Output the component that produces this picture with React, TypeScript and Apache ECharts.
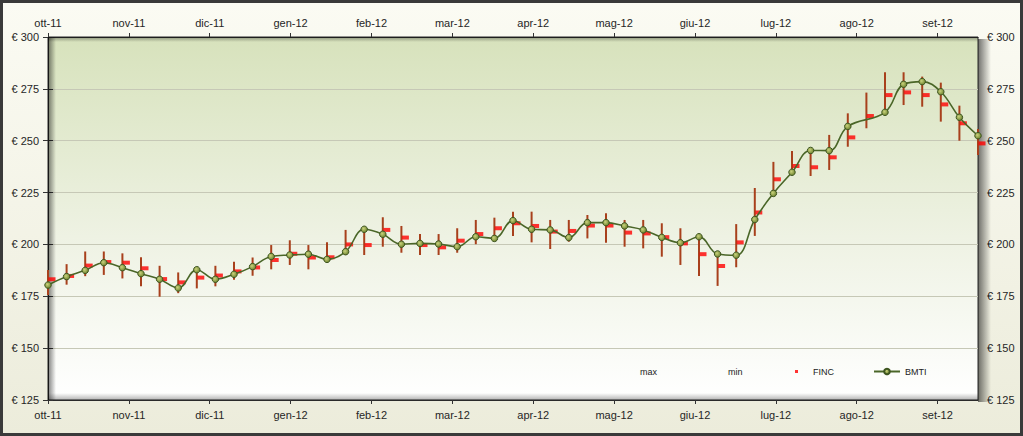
import React, { useEffect, useRef } from "react";
import * as echarts from "echarts";

const months = ["ott-11", "nov-11", "dic-11", "gen-12", "feb-12", "mar-12", "apr-12", "mag-12", "giu-12", "lug-12", "ago-12", "set-12"];
const monthTicks = months.map((_, i) => i);
const yTicks = [125, 150, 175, 200, 225, 250, 275, 300];

const bmti: (number | null)[] = [
  180.4, 184.5, 187.5, 191.2, 188.8, 185.9, 183.2, 179.0, 187.8, 183.2,
  185.6, 189.3, 194.2, 194.9, 195.3, 192.8, 196.5, 207.3, 204.9, 200.1,
  200.5, 200.2, 198.9, 203.7, 202.9, 211.5, 207.3, 207.0, 203.3, 210.5,
  210.5, 208.9, 207.0, 203.4, 200.8, 203.7, 195.4, 194.8, 212.0, 224.6,
  234.8, 245.3, 245.2, 256.9, null, 263.7, 277.2, 278.5, 273.6, 261.3,
  252.4,
];
const maxVals = [
  187.7, 190.5, 196.6, 196.6, 195.7, 193.8, 189.7, 186.5, 188.0, 189.7,
  191.7, 193.7, 199.7, 202.0, 199.7, 201.0, 207.0, 207.3, 213.1, 208.9,
  205.0, 205.0, 207.8, 211.8, 212.9, 215.8, 215.8, 211.8, 211.8, 214.2,
  215.0, 211.8, 211.8, 210.2, 207.8, 204.0, 195.6, 209.8, 227.2, 239.8,
  245.0, 245.4, 252.8, 263.2, 273.2, 283.0, 283.0, 280.9, 278.0, 266.9,
  255.6,
];
const minVals = [
  175.6, 180.6, 184.7, 185.3, 183.6, 179.8, 174.8, 176.5, 178.8, 179.8,
  183.0, 184.9, 188.0, 190.1, 188.0, 191.7, 194.9, 194.9, 198.9, 196.0,
  194.9, 194.9, 196.0, 200.1, 202.1, 204.1, 201.0, 197.8, 201.3, 202.9,
  200.8, 198.9, 198.1, 194.1, 190.1, 184.8, 180.0, 189.0, 204.1, 225.5,
  234.0, 233.0, 235.9, 247.1, 256.0, 263.5, 267.2, 266.4, 259.2, 250.0,
  243.1,
];
const finc = [
  183.2, 184.8, 189.8, 191.5, 191.2, 188.5, 183.3, 181.7, 184.0, 185.0,
  187.0, 188.9, 192.5, 195.5, 193.7, 193.8, 200.0, 199.7, 207.0, 203.3,
  199.7, 198.6, 201.8, 205.0, 207.8, 210.2, 208.9, 206.2, 206.5, 209.1,
  209.1, 205.7, 205.3, 203.5, 200.5, 195.3, 189.6, 201.0, 215.4, 231.4,
  237.8, 237.2, 242.0, 251.6, 261.9, 272.0, 273.3, 272.0, 267.5, 258.4,
  248.7,
];
const weeks = bmti.map((_, i) => `s${i + 1}`);

export default function App() {
  const ref = useRef<HTMLDivElement>(null);
  useEffect(() => {
    if (!ref.current) return;
    const chart = echarts.init(ref.current, undefined, { renderer: "svg" });
    const G = echarts.graphic;
    const labelColor = "#262626";
    const font = "Liberation Sans, Arial, sans-serif";
    const monthAxis = (position: string) => ({
      type: "value",
      gridIndex: 0,
      position,
      min: 0,
      max: 11.5,
      axisLine: { show: true, lineStyle: { color: "#2a2a2a", width: 1 } },
      axisTick: { show: true, length: 4, customValues: monthTicks, lineStyle: { color: "#333" } },
      axisLabel: {
        customValues: monthTicks,
        formatter: (v: number) => months[Math.round(v)] ?? "",
        color: labelColor,
        fontSize: 11,
        fontFamily: font,
        margin: 9,
      },
      splitLine: { show: false },
    });
    const yAxis = (position: string, split: boolean) => ({
      type: "value",
      position,
      min: 125,
      max: 300,
      interval: 25,
      axisLine: { show: true, lineStyle: { color: "#2a2a2a", width: 1 } },
      axisTick: { show: true, length: 5, lineStyle: { color: "#333" } },
      axisLabel: {
        formatter: (v: number) => `€ ${v}`,
        color: labelColor,
        fontSize: 11,
        fontFamily: font,
        margin: 9,
      },
      splitLine: { show: split, lineStyle: { color: "#c6c8b6", width: 1 } },
    });
    const legendBase = {
      top: 367,
      textStyle: { fontSize: 9, color: "#222", fontFamily: font },
      selectedMode: false,
      padding: 0,
    };
    chart.setOption({
      animation: false,
      backgroundColor: "transparent",
      graphic: [
        {
          type: "rect",
          z: -10,
          shape: { x: 1.5, y: 1.5, width: 1020, height: 433 },
          style: {
            fill: new G.LinearGradient(0, 0, 0, 1, [
              { offset: 0, color: "#fbfbf3" },
              { offset: 1, color: "#ececdb" },
            ]),
            stroke: "#3a3a3a",
            lineWidth: 3,
          },
        },
        {
          type: "rect",
          z: 1,
          silent: true,
          shape: { x: 48, y: 37, width: 8, height: 363 },
          style: {
            fill: new G.LinearGradient(0, 0, 1, 0, [
              { offset: 0, color: "rgba(0,0,0,0.5)" },
              { offset: 1, color: "rgba(0,0,0,0)" },
            ]),
          },
        },
        {
          type: "rect",
          z: 1,
          silent: true,
          shape: { x: 48, y: 37, width: 930, height: 5 },
          style: {
            fill: new G.LinearGradient(0, 0, 0, 1, [
              { offset: 0, color: "rgba(0,0,0,0.35)" },
              { offset: 1, color: "rgba(0,0,0,0)" },
            ]),
          },
        },
        {
          type: "rect",
          z: 1,
          silent: true,
          shape: { x: 48, y: 393, width: 930, height: 7 },
          style: {
            fill: new G.LinearGradient(0, 0, 0, 1, [
              { offset: 0, color: "rgba(0,0,0,0)" },
              { offset: 1, color: "rgba(0,0,0,0.3)" },
            ]),
          },
        },
        {
          type: "rect",
          z: 1,
          silent: true,
          shape: { x: 978, y: 39, width: 13, height: 363 },
          style: {
            fill: new G.LinearGradient(0, 0, 1, 0, [
              { offset: 0, color: "rgba(0,0,0,0.55)" },
              { offset: 1, color: "rgba(0,0,0,0)" },
            ]),
          },
        },
      ],
      grid: {
        left: 48,
        right: 45,
        top: 37,
        bottom: 36,
        show: true,
        borderColor: "#2a2a2a",
        borderWidth: 1,
        backgroundColor: new G.LinearGradient(0, 0, 0, 1, [
          { offset: 0, color: "#d7e2bc" },
          { offset: 0.55, color: "#eef2e3" },
          { offset: 1, color: "#ffffff" },
        ]),
      },
      legend: [
        { ...legendBase, left: 634, itemWidth: 0, itemHeight: 0, data: ["max"] },
        { ...legendBase, left: 722, itemWidth: 0, itemHeight: 0, data: ["min"] },
        {
          ...legendBase,
          left: 795,
          itemWidth: 3,
          itemHeight: 3,
          data: [{ name: "FINC", icon: "rect" }],
          textStyle: { ...legendBase.textStyle, padding: [0, 0, 0, 10] },
        },
        { ...legendBase, left: 873, itemWidth: 26, itemHeight: 7, data: ["BMTI"] },
      ],
      xAxis: [
        monthAxis("bottom"),
        monthAxis("top"),
        { type: "category", gridIndex: 0, data: weeks, boundaryGap: false, show: false },
      ],
      yAxis: [yAxis("left", true), yAxis("right", false)],
      series: [
        {
          name: "max",
          type: "line",
          xAxisIndex: 2,
          yAxisIndex: 0,
          data: maxVals,
          symbol: "none",
          silent: true,
          lineStyle: { opacity: 0 },
          z: 0,
        },
        {
          name: "min",
          type: "line",
          xAxisIndex: 2,
          yAxisIndex: 0,
          data: minVals,
          symbol: "none",
          silent: true,
          lineStyle: { opacity: 0 },
          z: 0,
        },
        {
          name: "hilo",
          type: "custom",
          xAxisIndex: 2,
          yAxisIndex: 0,
          data: weeks.map((_, i) => [i, maxVals[i], minVals[i]]),
          z: 2,
          renderItem: (params: any, api: any) => {
            const p1 = api.coord([api.value(0), api.value(1)]);
            const p2 = api.coord([api.value(0), api.value(2)]);
            return {
              type: "line",
              shape: { x1: p1[0], y1: p1[1], x2: p2[0], y2: p2[1] },
              style: { stroke: "#a8401c", lineWidth: 2 },
            };
          },
        },
        {
          name: "FINC",
          type: "scatter",
          xAxisIndex: 2,
          yAxisIndex: 0,
          data: finc,
          symbol: "rect",
          symbolSize: [7, 4],
          symbolOffset: [4, 0],
          itemStyle: { color: "#ff0000" },
          z: 3,
        },
        {
          name: "BMTI",
          type: "line",
          xAxisIndex: 2,
          yAxisIndex: 0,
          data: bmti,
          connectNulls: true,
          smooth: 0.4,
          symbol: "circle",
          symbolSize: 6.5,
          showAllSymbol: true,
          lineStyle: { color: "#4a6628", width: 1.6 },
          itemStyle: {
            color: new G.RadialGradient(0.4, 0.4, 0.6, [
              { offset: 0, color: "#c9d27c" },
              { offset: 1, color: "#6f8530" },
            ]),
            borderColor: "#3e5520",
            borderWidth: 1,
          },
          z: 4,
        },
      ],
    });
    return () => chart.dispose();
  }, []);
  return <div ref={ref} style={{ position: "absolute", left: 0, top: 0, width: 1023, height: 436 }} />;
}
